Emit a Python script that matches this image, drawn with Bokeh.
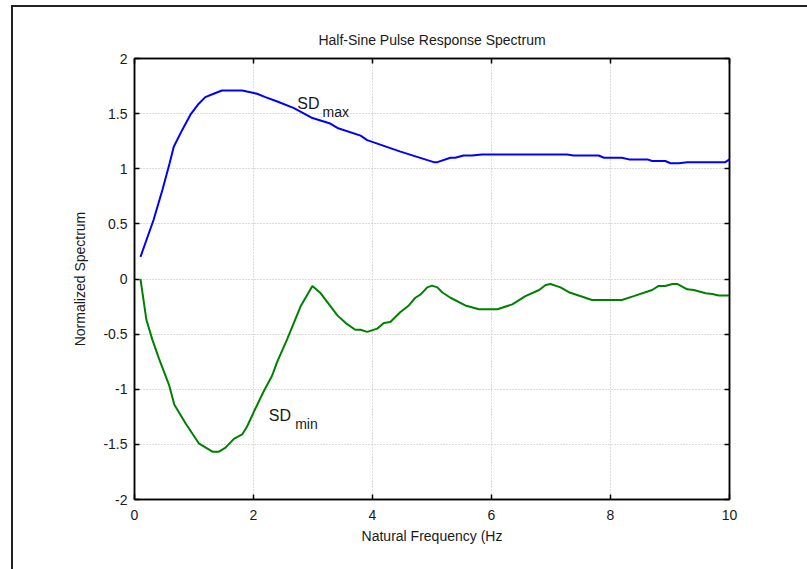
from bokeh.plotting import figure
from bokeh.models import Label, LinearAxis, FixedTicker, Range1d, InlineStyleSheet
from bokeh.embed import file_html
from bokeh.resources import INLINE

# ---- data ----
freq_max = [0.1, 0.32, 0.47, 0.59, 0.66, 0.80, 0.94, 1.08, 1.19, 1.33, 1.47, 1.81, 1.89, 2.06,
            2.20, 2.40, 2.68, 2.82, 2.99, 3.29, 3.41, 3.80, 3.91, 4.47, 5.03, 5.09, 5.31, 5.39,
            5.53, 5.67, 5.84, 7.27, 7.38, 7.80, 7.89, 8.19, 8.31, 8.62, 8.70, 8.92, 9.01, 9.15,
            9.29, 9.93, 10.0]
sd_max = [0.20, 0.535, 0.81, 1.05, 1.20, 1.35, 1.49, 1.59, 1.65, 1.68, 1.71, 1.71, 1.70, 1.68,
          1.65, 1.61, 1.55, 1.51, 1.46, 1.41, 1.37, 1.30, 1.26, 1.155, 1.06, 1.06, 1.10, 1.10,
          1.12, 1.12, 1.13, 1.13, 1.12, 1.12, 1.10, 1.10, 1.085, 1.085, 1.07, 1.07, 1.05, 1.05,
          1.06, 1.06, 1.085]

freq_min = [0.1, 0.20, 0.30, 0.41, 0.58, 0.67, 0.86, 1.08, 1.31, 1.42, 1.53, 1.67, 1.81, 1.89,
            2.01, 2.17, 2.31, 2.40, 2.57, 2.79, 2.99, 3.13, 3.41, 3.55, 3.71, 3.80, 3.91, 4.08,
            4.19, 4.30, 4.47, 4.61, 4.72, 4.81, 4.92, 5.00, 5.09, 5.17, 5.31, 5.56, 5.79, 6.10,
            6.35, 6.57, 6.80, 6.91, 6.99, 7.16, 7.30, 7.69, 8.19, 8.39, 8.70, 8.81, 8.92, 9.04,
            9.12, 9.29, 9.40, 9.60, 9.71, 9.82, 10.0]
sd_min = [0.0, -0.37, -0.55, -0.72, -0.96, -1.14, -1.31, -1.49, -1.566, -1.566, -1.53, -1.45,
          -1.41, -1.34, -1.20, -1.02, -0.88, -0.75, -0.54, -0.25, -0.063, -0.13, -0.33, -0.40,
          -0.46, -0.46, -0.48, -0.45, -0.40, -0.39, -0.30, -0.24, -0.17, -0.14, -0.076, -0.06,
          -0.076, -0.12, -0.17, -0.24, -0.275, -0.275, -0.23, -0.155, -0.10, -0.054, -0.045,
          -0.076, -0.12, -0.19, -0.19, -0.155, -0.10, -0.063, -0.063, -0.045, -0.045, -0.094,
          -0.10, -0.13, -0.136, -0.15, -0.15]

x_ticks = [0, 2, 4, 6, 8, 10]
x_tick_labels = ["0", "2", "4", "6", "8", "10"]
y_ticks = [-2, -1.5, -1, -0.5, 0, 0.5, 1, 1.5, 2]
y_tick_labels = ["-2", "-1.5", "-1", "-0.5", "0", "0.5", "1", "1.5", "2"]

title_text = "Half-Sine Pulse Response Spectrum"
x_label = "Natural Frequency (Hz"
y_label = "Normalized Spectrum"

FONT = "Liberation Sans"
FS = "14px"

p = figure(width=807, height=569, output_backend="svg", toolbar_location=None,
           x_range=Range1d(0, 10), y_range=Range1d(-2, 2),
           min_border_left=134, min_border_right=78, min_border_top=58, min_border_bottom=70,
           title=title_text)

p.title.align = "center"
p.title.text_font = FONT
p.title.text_font_size = FS
p.title.text_font_style = "normal"
p.title.text_color = "#1a1a1a"
p.title.standoff = 21

p.background_fill_color = "white"
p.border_fill_color = "white"
p.outline_line_color = "black"
p.outline_line_width = 1.5

# grid
for g in (p.xgrid, p.ygrid):
    g.grid_line_color = "#b8b8b8"
    g.grid_line_dash = "1 2"
    g.grid_line_width = 1
p.xgrid.ticker = FixedTicker(ticks=x_ticks)
p.ygrid.ticker = FixedTicker(ticks=y_ticks)


def style_axis(ax, ticks, labels):
    ax.ticker = FixedTicker(ticks=ticks)
    ax.major_label_overrides = {t: l for t, l in zip(ticks, labels)}
    ax.axis_line_color = "black"
    ax.axis_line_width = 1.5
    ax.major_tick_in = 5
    ax.major_tick_out = 0
    ax.major_tick_line_color = "black"
    ax.major_tick_line_width = 1.5
    ax.minor_tick_line_color = None
    ax.major_label_text_font = FONT
    ax.major_label_text_font_size = FS
    ax.major_label_text_color = "#1a1a1a"
    ax.axis_label_text_font = FONT
    ax.axis_label_text_font_size = FS
    ax.axis_label_text_font_style = "normal"
    ax.axis_label_text_color = "#1a1a1a"


xa = p.xaxis[0]
style_axis(xa, x_ticks, x_tick_labels)
xa.axis_label = x_label
xa.major_label_standoff = 10
xa.axis_label_standoff = 5

ya = p.yaxis[0]
style_axis(ya, y_ticks, y_tick_labels)
ya.axis_label = y_label
ya.major_label_standoff = 7
ya.axis_label_standoff = 12

# mirrored tick marks on the top and right edges (no labels)
top_ax = LinearAxis()
style_axis(top_ax, x_ticks, [""] * len(x_ticks))
top_ax.major_label_standoff = 0
p.add_layout(top_ax, "above")

right_ax = LinearAxis()
style_axis(right_ax, y_ticks, [""] * len(y_ticks))
right_ax.major_label_standoff = 0
p.add_layout(right_ax, "right")

# curves
p.line(freq_max, sd_max, line_color="#0000ff", line_width=2)
p.line(freq_min, sd_min, line_color="#008000", line_width=2)

# curve labels
for txt, x, y, sz in [("SD", 2.735, 1.596, "16px"), ("max", 3.16, 1.515, "14px"),
                      ("SD", 2.257, -1.234, "16px"), ("min", 2.70, -1.315, "14px")]:
    p.add_layout(Label(x=x, y=y, text=txt, text_font=FONT, text_font_size=sz,
                       text_color="#1a1a1a", text_baseline="alphabetic"))

# outer border of the figure window (only left and top edges fall inside the view)
p.stylesheets = [InlineStyleSheet(css="""
:host { position: relative; overflow: hidden; }
:host::after {
  content: "";
  position: absolute;
  left: 11px; top: 5px;
  width: 820px; height: 580px;
  border-left: 2px solid #222222;
  border-top: 2px solid #222222;
  pointer-events: none;
  z-index: 10;
}
""")]

open("out.html", "w").write(file_html(p, INLINE))
